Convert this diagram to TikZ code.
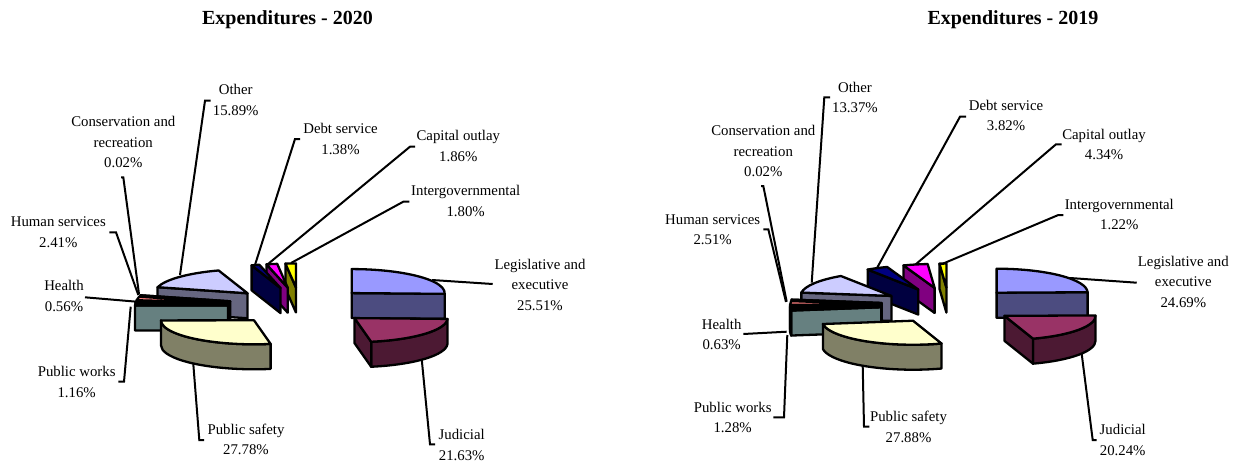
\documentclass[tikz,border=0pt]{standalone}
\usepackage{fontspec}
\setmainfont{Liberation Serif}
\definecolor{cLeg}{HTML}{9999FF}
\definecolor{cJud}{HTML}{993366}
\definecolor{cPS}{HTML}{FFFFCC}
\definecolor{cPW}{HTML}{CCFFFF}
\definecolor{cHealth}{HTML}{660066}
\definecolor{cHS}{HTML}{FF8080}
\definecolor{cCons}{HTML}{0066CC}
\definecolor{cOther}{HTML}{CCCCFF}
\definecolor{cDebt}{HTML}{000080}
\definecolor{cCap}{HTML}{FF00FF}
\definecolor{cInter}{HTML}{FFFF00}
\tikzset{
  pieline/.style={draw=black, line width=2.3pt, line join=round},
  leader/.style={draw=black, line width=2pt, line join=miter},
  lbl/.style={align=center, inner sep=0pt, font=\fontsize{14.8}{20.7}\selectfont},
  ttl/.style={inner sep=0pt, font=\fontsize{20}{24}\selectfont\bfseries},
}
\newcommand\pieslice[2]{%
  \pgfmathsetmacro\sA{#1}%
  \pgfmathsetmacro\sB{#2}%
  \pgfmathsetmacro\sM{(#1+#2)/2}%
  \pgfmathsetmacro\sCx{\pE*cos(\sM)}%
  \pgfmathsetmacro\sCy{\pE*\pRY/\pRX*sin(\sM)}%
  \pgfmathsetmacro\sCyb{\sCy-\pH}}
\newcommand\topface[1]{%
  \pgfmathsetmacro\tx{\sCx+\pRX*cos(\sA)}%
  \pgfmathsetmacro\ty{\sCy+\pRY*sin(\sA)}%
  \filldraw[pieline,fill=#1] (\sCx,\sCy) -- (\tx,\ty)
    arc[start angle=\sA,end angle=\sB,x radius=\pRX,y radius=\pRY] -- cycle;}
\newcommand\radface[2]{%
  \pgfmathsetmacro\tx{\sCx+\pRX*cos(#1)}%
  \pgfmathsetmacro\ty{\sCy+\pRY*sin(#1)}%
  \pgfmathsetmacro\tyb{\ty-\pH}%
  \filldraw[pieline,fill=#2!50!black] (\sCx,\sCy) -- (\tx,\ty) -- (\tx,\tyb) -- (\sCx,\sCyb) -- cycle;}
\newcommand\outface[3]{%
  \pgfmathsetmacro\tx{\sCx+\pRX*cos(#1)}%
  \pgfmathsetmacro\ty{\sCy+\pRY*sin(#1)}%
  \pgfmathsetmacro\ux{\sCx+\pRX*cos(#2)}%
  \pgfmathsetmacro\uy{\sCy+\pRY*sin(#2)-\pH}%
  \filldraw[pieline,fill=#3!50!black] (\tx,\ty)
    arc[start angle=#1,end angle=#2,x radius=\pRX,y radius=\pRY] -- (\ux,\uy)
    arc[start angle=#2,end angle=#1,x radius=\pRX,y radius=\pRY] -- cycle;}
\begin{document}
\begin{tikzpicture}[x=1pt,y=-1pt]
\useasboundingbox (0,0) rectangle (1238,461);
% titles
\node[ttl,anchor=base] (t20) at (287.5,24) {Expenditures - 2020};
\node[ttl,anchor=base] (t19) at (1013,24) {Expenditures - 2019};

% ---------- labels 2020 ----------
\node[lbl] (lOtherL) at (235.7,99.7) {Other\\15.89\%};
\node[lbl] (lConsL) at (123.3,142.2) {Conservation and\\recreation\\0.02\%};
\node[lbl] (lDebtL) at (340.5,138.8) {Debt service\\1.38\%};
\node[lbl] (lCapL) at (458.3,146.3) {Capital outlay\\1.86\%};
\node[lbl] (lInterL) at (465.7,201.2) {Intergovernmental\\1.80\%};
\node[lbl] (lHSL) at (58.3,232) {Human services\\2.41\%};
\node[lbl] (lLegL) at (540,284.8) {Legislative and\\executive\\25.51\%};
\node[lbl] (lHealthL) at (64,296.3) {Health\\0.56\%};
\node[lbl] (lPWL) at (76.7,381.8) {Public works\\1.16\%};
\node[lbl] (lPSL) at (246,439.3) {Public safety\\27.78\%};
\node[lbl] (lJudL) at (461.7,444.7) {Judicial\\21.63\%};

% ---------- labels 2019 ----------
\node[lbl] (lOtherR) at (855,97.5) {Other\\13.37\%};
\node[lbl] (lConsR) at (763.3,151.1) {Conservation and\\recreation\\0.02\%};
\node[lbl] (lDebtR) at (1006,115.5) {Debt service\\3.82\%};
\node[lbl] (lCapR) at (1104,144.5) {Capital outlay\\4.34\%};
\node[lbl] (lInterR) at (1119.3,214.5) {Intergovernmental\\1.22\%};
\node[lbl] (lHSR) at (712.7,229.7) {Human services\\2.51\%};
\node[lbl] (lLegR) at (1183.3,281.7) {Legislative and\\executive\\24.69\%};
\node[lbl] (lHealthR) at (721.7,334.5) {Health\\0.63\%};
\node[lbl] (lPWR) at (732.7,417.5) {Public works\\1.28\%};
\node[lbl] (lPSR) at (908.5,426.7) {Public safety\\27.88\%};
\node[lbl] (lJudR) at (1122.7,439.7) {Judicial\\20.24\%};

% ---------- leader lines 2020 ----------
\coordinate (aO1) at (180,275); \coordinate (aO2) at (205,100.7); \coordinate (aO3) at (210.7,100.7);
\coordinate (aC1) at (139,294); \coordinate (aC2) at (123.3,177.3); \coordinate (aC3) at (121,177.3);
\coordinate (aH1) at (138.3,295); \coordinate (aH2) at (116,232.3); \coordinate (aH3) at (109.3,232.3);
\coordinate (aHe1) at (136.7,301.7); \coordinate (aHe2) at (85,297.3);
\coordinate (aP1) at (130.7,306.7); \coordinate (aP2) at (124,381.7); \coordinate (aP3) at (118.3,381.7);
\coordinate (aS1) at (193.3,364); \coordinate (aS2) at (199.3,440); \coordinate (aS3) at (204,440);
\coordinate (aJ1) at (421.7,359); \coordinate (aJ2) at (430,444.3); \coordinate (aJ3) at (435,444.3);
\coordinate (aL1) at (432,280); \coordinate (aL2) at (492.7,284);
\coordinate (aD1) at (254.5,266.5); \coordinate (aD2) at (295,139); \coordinate (aD3) at (300,139);
\coordinate (aK1) at (268,264); \coordinate (aK2) at (410,146.7); \coordinate (aK3) at (415,146.7);
\coordinate (aI1) at (291,263); \coordinate (aI2) at (403.3,201.7); \coordinate (aI3) at (409.3,201.7);
\draw[leader] (aO1) -- (aO2) -- (aO3);
\draw[leader] (aC1) -- (aC2) -- (aC3);
\draw[leader] (aH1) -- (aH2) -- (aH3);
\draw[leader] (aHe1) -- (aHe2);
\draw[leader] (aP1) -- (aP2) -- (aP3);
\draw[leader] (aS1) -- (aS2) -- (aS3);
\draw[leader] (aJ1) -- (aJ2) -- (aJ3);
\draw[leader] (aL1) -- (aL2);
\draw[leader] (aD1) -- (aD2) -- (aD3);
\draw[leader] (aK1) -- (aK2) -- (aK3);
\draw[leader] (aI1) -- (aI2) -- (aI3);

% ---------- leader lines 2019 ----------
\coordinate (bO1) at (811.7,282.7); \coordinate (bO2) at (824.3,97.3); \coordinate (bO3) at (830,97.3);
\coordinate (bC1) at (786.7,301.7); \coordinate (bC2) at (763.3,186); \coordinate (bC3) at (761,186);
\coordinate (bH1) at (786,302); \coordinate (bH2) at (768.3,229.3); \coordinate (bH3) at (763.3,229.3);
\coordinate (bHe1) at (786.7,331.7); \coordinate (bHe2) at (743.3,334);
\coordinate (bP1) at (787.3,335); \coordinate (bP2) at (784,417.3); \coordinate (bP3) at (773.3,417.3);
\coordinate (bS1) at (862.7,366); \coordinate (bS2) at (864,426.7); \coordinate (bS3) at (869.3,426.7);
\coordinate (bJ1) at (1081.7,354); \coordinate (bJ2) at (1092.7,440); \coordinate (bJ3) at (1096.7,440);
\coordinate (bL1) at (1070,278); \coordinate (bL2) at (1136.7,282.7);
\coordinate (bD1) at (877,268); \coordinate (bD2) at (960,116.7); \coordinate (bD3) at (966,116.7);
\coordinate (bK1) at (915.5,264.5); \coordinate (bK2) at (1056,144.3); \coordinate (bK3) at (1061.7,144.3);
\coordinate (bI1) at (943,263.6); \coordinate (bI2) at (1058.3,215); \coordinate (bI3) at (1063.3,215);
\draw[leader] (bO1) -- (bO2) -- (bO3);
\draw[leader] (bC1) -- (bC2) -- (bC3);
\draw[leader] (bH1) -- (bH2) -- (bH3);
\draw[leader] (bHe1) -- (bHe2);
\draw[leader] (bP1) -- (bP2) -- (bP3);
\draw[leader] (bS1) -- (bS2) -- (bS3);
\draw[leader] (bJ1) -- (bJ2) -- (bJ3);
\draw[leader] (bL1) -- (bL2);
\draw[leader] (bD1) -- (bD2) -- (bD3);
\draw[leader] (bK1) -- (bK2) -- (bK3);
\draw[leader] (bI1) -- (bI2) -- (bI3);

% ---------- pie 2020 ----------
\begin{scope}[shift={(300,306)},yscale=-1]
\def\pE{72}\def\pRX{93}\def\pRY{24}\def\pH{25}
\pieslice{90}{96.48}\radface{96.48}{cInter}\topface{cInter}
\pieslice{96.48}{103.176}\radface{103.176}{cCap}\topface{cCap}
\pieslice{103.176}{108.144}\radface{108.144}{cDebt}\topface{cDebt}
\pieslice{-1.836}{90}\radface{-1.836}{cLeg}\topface{cLeg}
\pieslice{108.144}{165.348}\radface{165.348}{cOther}\topface{cOther}
\pieslice{165.348}{165.42}\radface{165.42}{cCons}\topface{cCons}
\pieslice{165.42}{174.096}\radface{174.096}{cHS}\topface{cHS}
\pieslice{174.096}{176.112}\radface{176.112}{cHealth}\topface{cHealth}
\pieslice{176.112}{180.288}\radface{180.288}{cPW}\topface{cPW}
\pieslice{-79.704}{-1.836}\outface{-79.704}{-1.836}{cJud}\radface{-79.704}{cJud}\topface{cJud}
\pieslice{-179.712}{-79.704}\outface{-179.712}{-79.704}{cPS}\topface{cPS}
\end{scope}

% ---------- pie 2019 ----------
\begin{scope}[shift={(949,305.5)},yscale=-1]
\def\pE{68}\def\pRX{91}\def\pRY{24}\def\pH{25}
\pieslice{90}{94.392}\radface{94.392}{cInter}\topface{cInter}
\pieslice{94.392}{110.016}\radface{110.016}{cCap}\topface{cCap}
\pieslice{110.016}{123.768}\radface{123.768}{cDebt}\topface{cDebt}
\pieslice{1.116}{90}\radface{1.116}{cLeg}\topface{cLeg}
\pieslice{123.768}{171.9}\radface{171.9}{cOther}\topface{cOther}
\pieslice{171.9}{171.972}\radface{171.972}{cCons}\topface{cCons}
\pieslice{171.972}{181.008}\radface{181.008}{cHS}\outface{180}{181.008}{cHS}\topface{cHS}
\pieslice{181.008}{183.276}\radface{183.276}{cHealth}\outface{181.008}{183.276}{cHealth}\topface{cHealth}
\pieslice{183.276}{187.884}\radface{187.884}{cPW}\outface{183.276}{187.884}{cPW}\topface{cPW}
\pieslice{-71.748}{1.116}\outface{-71.748}{0}{cJud}\radface{-71.748}{cJud}\topface{cJud}
\pieslice{-172.116}{-71.748}\outface{-172.116}{-71.748}{cPS}\topface{cPS}
\end{scope}
\end{tikzpicture}
\end{document}
